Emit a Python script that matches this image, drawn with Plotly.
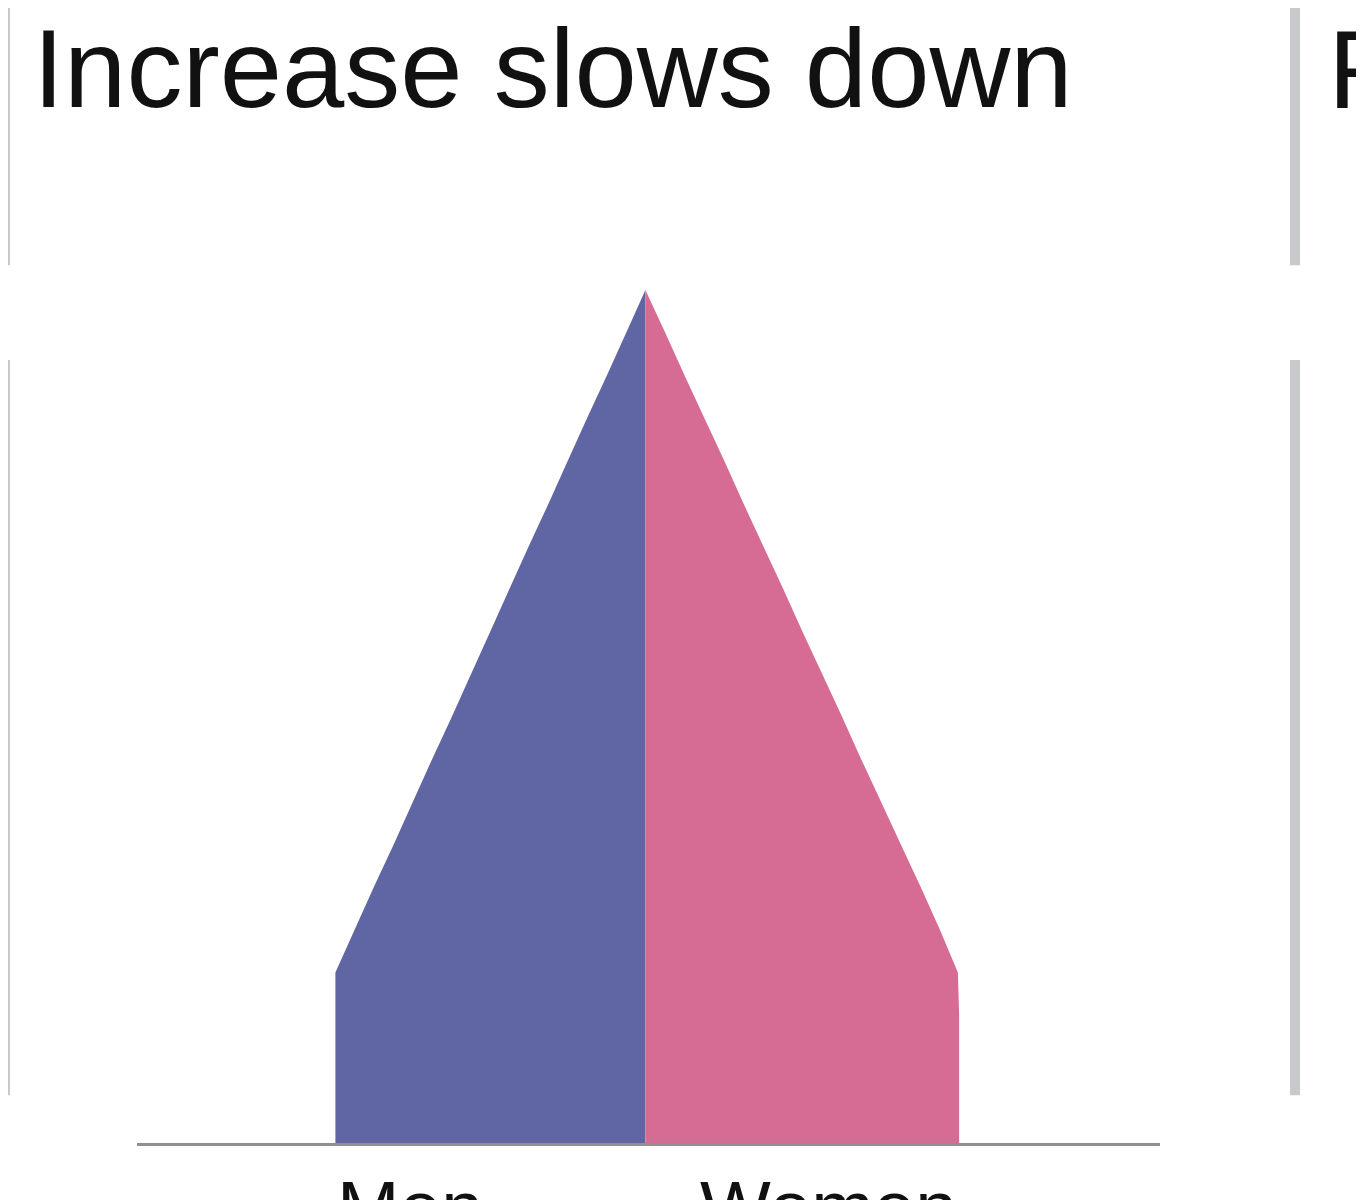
import plotly.graph_objects as go

# age groups (bottom to top) and share of population
ages = [0, 5, 10, 15, 20, 25, 30, 35, 40, 45, 50, 55, 60, 65, 70, 75, 80, 85, 90, 95, 100]
men = [5.0, 5.0, 5.0, 5.0, 5.0, 4.69, 4.38, 4.06, 3.75, 3.44, 3.12, 2.81,
       2.50, 2.19, 1.88, 1.56, 1.25, 0.94, 0.62, 0.31, 0.0]
women = [5.06, 5.06, 5.06, 5.06, 5.04, 4.75, 4.44, 4.12, 3.80, 3.48, 3.17, 2.85,
         2.53, 2.22, 1.90, 1.58, 1.27, 0.95, 0.63, 0.32, 0.0]
sex_labels = ["Men", "Women"]

title = "Increase slows down"
next_title = "F"

blue = "#6066a4"
pink = "#d66b93"
font = "Liberation Sans, Arial, Helvetica, sans-serif"

fig = go.Figure()
fig.add_trace(go.Scatter(x=[-v for v in men], y=ages, fill="tozerox", mode="none",
                         fillcolor=blue, hoverinfo="skip", name=sex_labels[0]))
fig.add_trace(go.Scatter(x=women, y=ages, fill="tozerox", mode="none",
                         fillcolor=pink, hoverinfo="skip", name=sex_labels[1]))

# Men / Women labels sit under the base of the pyramid
fig.add_annotation(x=-men[0], y=0, yshift=-20, text=sex_labels[0], showarrow=False,
                   xanchor="left", yanchor="top", font=dict(size=75, color="#111"))
fig.add_annotation(x=women[0], y=0, yshift=-20, text=sex_labels[1], showarrow=False,
                   xanchor="right", yanchor="top", font=dict(size=75, color="#111"))

# start of the neighbouring panel's title
fig.add_annotation(xref="paper", yref="paper", x=1.162, y=1.334, text=next_title,
                   showarrow=False, xanchor="left", yanchor="top",
                   font=dict(size=112, color="#111"))

# panel separators
for xp in [-0.129, 1.132]:
    for y0, y1 in [(1.029, 1.40), (0.056, 0.918)]:
        fig.add_shape(type="line", xref="paper", yref="paper", x0=xp, x1=xp, y0=y0, y1=y1,
                      line=dict(color="#c8c9cc", width=10))

fig.update_layout(
    width=1364, height=1200,
    margin=dict(l=129, r=212, t=282, b=65),
    paper_bgcolor="white", plot_bgcolor="white",
    showlegend=False,
    font=dict(family=font, color="#111"),
    title=dict(text=title, x=25 / 1364, xanchor="left", xref="container",
               y=1 - 21 / 1200, yanchor="top", yref="container",
               font=dict(size=112, color="#111")),
)
fig.update_xaxes(range=[-8.2, 8.3], showgrid=False, zeroline=False, showticklabels=False,
                 showline=True, linecolor="#8f8f8f", linewidth=3, ticks="")
fig.update_yaxes(range=[0, 100], showgrid=False, zeroline=False, showticklabels=False,
                 showline=False, ticks="")

fig.write_html("out.html")
